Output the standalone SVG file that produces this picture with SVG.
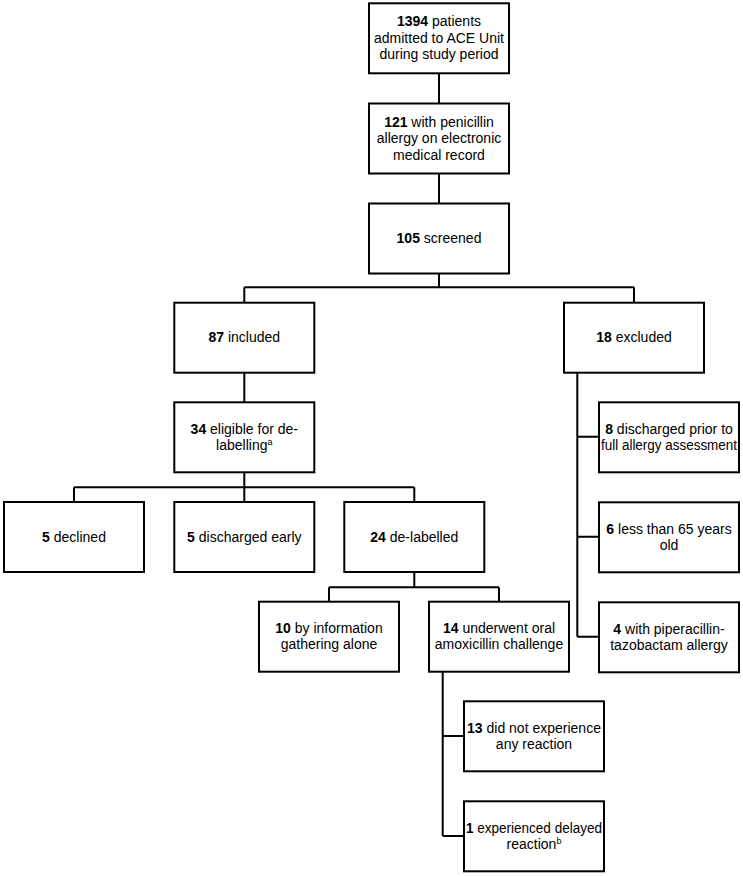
<svg xmlns="http://www.w3.org/2000/svg" width="743" height="876" viewBox="0 0 743 876">
<style>
.box{fill:#fff;stroke:#000;stroke-width:2}
.ln{stroke:#000;stroke-width:2;fill:none}
text{font-family:"Liberation Sans",Arial,sans-serif;font-size:14px;fill:#000;text-anchor:middle}
.b{font-weight:bold}
.sup{font-size:9px}
</style>
<rect width="743" height="876" fill="#fff"/>
<g id="connectors">
<path class="ln" d="M439,73 V103.5 M439,173.5 V203.5 M439,273.5 V287.3 M244.3,287.3 H634 M244.3,287.3 V302.7 M634,287.3 V302.7"/>
<path class="ln" d="M244.3,372.7 V402.3"/>
<path class="ln" d="M577.3,372.7 V636.7 M577.3,436.7 H599 M577.3,536.7 H599 M577.3,636.7 H599"/>
<path class="ln" d="M244.3,472.3 V487.3 M74,487.3 H414.3 M74,487.3 V502 M244.3,487.3 V502 M414.3,487.3 V502"/>
<path class="ln" d="M414.3,572 V587.3 M329,587.3 H499 M329,587.3 V601.7 M499,587.3 V601.7"/>
<path class="ln" d="M442.7,671.7 V836 M442.7,736 H464 M442.7,836 H464"/>
</g>
<g id="n1"><rect class="box" x="369" y="3.3" width="140" height="70"/>
<text x="439" y="26"><tspan class="b">1394</tspan> patients</text>
<text x="439" y="42.5">admitted to ACE Unit</text>
<text x="439" y="59">during study period</text></g>
<g id="n2"><rect class="box" x="369" y="103.5" width="140" height="70"/>
<text x="439" y="126.5"><tspan class="b">121</tspan> with penicillin</text>
<text x="439" y="143">allergy on electronic</text>
<text x="439" y="159.5">medical record</text></g>
<g id="n3"><rect class="box" x="369" y="203.5" width="140" height="70"/>
<text x="439" y="243"><tspan class="b">105</tspan> screened</text></g>
<g id="n4"><rect class="box" x="174.3" y="302.7" width="140" height="70"/>
<text x="244.3" y="342.2"><tspan class="b">87</tspan> included</text></g>
<g id="n5"><rect class="box" x="564" y="302.7" width="140" height="70"/>
<text x="634" y="342.2"><tspan class="b">18</tspan> excluded</text></g>
<g id="n6"><rect class="box" x="174.3" y="402.3" width="140" height="70"/>
<text x="244.3" y="433.5"><tspan class="b">34</tspan> eligible for de-</text>
<text x="244.3" y="449.5">labelling<tspan class="sup" dy="-5">a</tspan></text></g>
<g id="n7"><rect class="box" x="4" y="502" width="140" height="70"/>
<text x="74" y="541.5"><tspan class="b">5</tspan> declined</text></g>
<g id="n8"><rect class="box" x="174.3" y="502" width="140" height="70"/>
<text x="244.3" y="541.5"><tspan class="b">5</tspan> discharged early</text></g>
<g id="n9"><rect class="box" x="344.3" y="502" width="140" height="70"/>
<text x="414.3" y="541.5"><tspan class="b">24</tspan> de-labelled</text></g>
<g id="n10"><rect class="box" x="599" y="402.3" width="140" height="70"/>
<text x="669" y="433.5"><tspan class="b">8</tspan> discharged prior to</text>
<text x="669" y="449.5" textLength="136" lengthAdjust="spacingAndGlyphs">full allergy assessment</text></g>
<g id="n11"><rect class="box" x="599" y="502.3" width="140" height="70"/>
<text x="669" y="533.5"><tspan class="b">6</tspan> less than 65 years</text>
<text x="669" y="549.5">old</text></g>
<g id="n12"><rect class="box" x="599" y="602.3" width="140" height="70"/>
<text x="669" y="633.5"><tspan class="b">4</tspan> with piperacillin-</text>
<text x="669" y="649.5">tazobactam allergy</text></g>
<g id="n13"><rect class="box" x="259" y="601.7" width="140" height="70"/>
<text x="329" y="633"><tspan class="b">10</tspan> by information</text>
<text x="329" y="649">gathering alone</text></g>
<g id="n14"><rect class="box" x="429" y="601.7" width="140" height="70"/>
<text x="499" y="633"><tspan class="b">14</tspan> underwent oral</text>
<text x="499" y="649">amoxicillin challenge</text></g>
<g id="n15"><rect class="box" x="464" y="701.3" width="140" height="70"/>
<text x="534" y="732.5"><tspan class="b">13</tspan> did not experience</text>
<text x="534" y="748.5">any reaction</text></g>
<g id="n16"><rect class="box" x="464" y="801.3" width="140" height="70"/>
<text x="534" y="832.5" textLength="136" lengthAdjust="spacingAndGlyphs"><tspan class="b">1</tspan> experienced delayed</text>
<text x="534" y="848.5">reaction<tspan class="sup" dy="-5">b</tspan></text></g>
</svg>
